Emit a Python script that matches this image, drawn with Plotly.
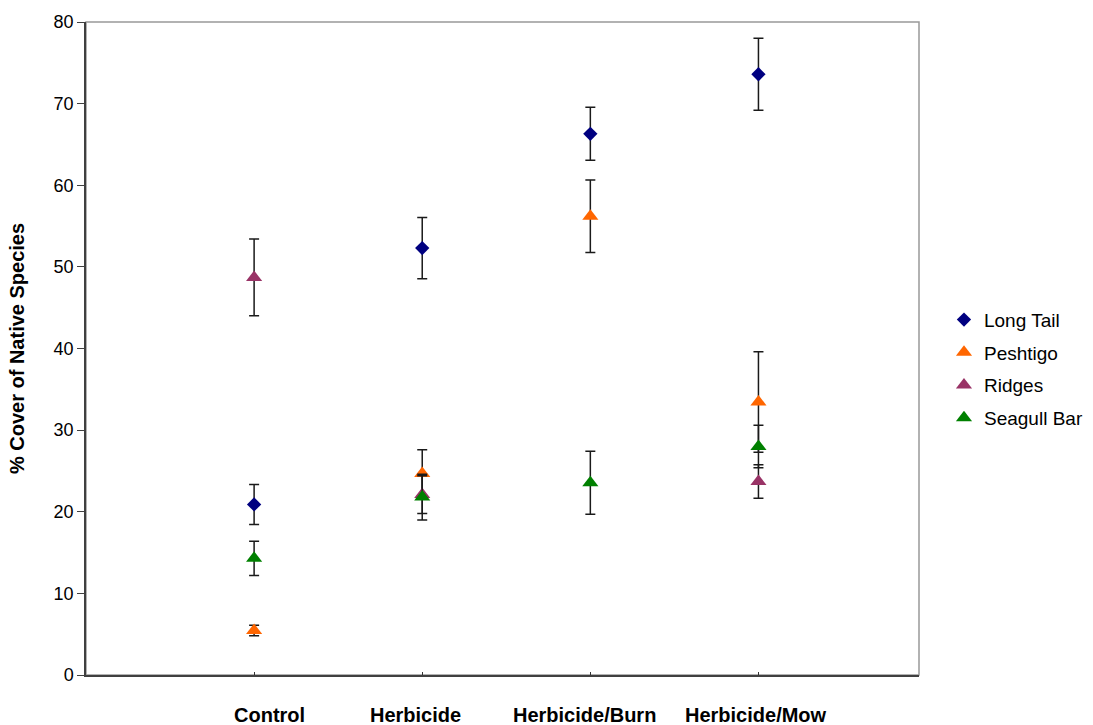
import plotly.graph_objects as go

categories = ["Control", "Herbicide", "Herbicide/Burn", "Herbicide/Mow"]
x_pos = [1, 2, 3, 4]
label_pos = [1.094, 1.962, 2.967, 3.983]

series_names = ["Long Tail", "Peshtigo", "Ridges", "Seagull Bar"]
long_tail = [20.9, 52.3, 66.3, 73.6]
long_tail_err = [2.45, 3.75, 3.25, 4.4]
peshtigo = [5.45, 24.7, 56.2, 33.45]
peshtigo_err = [0.65, 2.9, 4.45, 6.15]
ridges = [48.7, 22.1, None, 23.7]
ridges_err = [4.7, 2.3, 0, 2.05]
seagull = [14.3, 21.8, 23.55, 28.0]
seagull_err = [2.1, 2.8, 3.85, 2.6]

colors = ["#000080", "#FF6600", "#993366", "#008000"]
symbols = ["diamond", "triangle-up", "triangle-up", "triangle-up"]
sizes = [11, 14, 14, 14]

fig = go.Figure()
for i, (name, vals, errs, col, sym, sz) in enumerate(zip(
        series_names,
        [long_tail, peshtigo, ridges, seagull],
        [long_tail_err, peshtigo_err, ridges_err, seagull_err],
        colors, symbols, sizes)):
    fig.add_trace(go.Scatter(
        x=x_pos, y=vals, name=name, mode="markers", legendgroup=f"g{i}",
        marker=dict(symbol=sym, size=sz, color=col, line=dict(width=0)),
        error_y=dict(type="data", array=errs, visible=True,
                     color="#1a1a1a", thickness=1.5, width=5),
    ))

for lab, xp in zip(categories, label_pos):
    fig.add_annotation(x=xp, xref="x", y=-0.061, yref="paper",
                       text=f"<b>{lab}</b>", showarrow=False,
                       font=dict(family="Liberation Sans, Arial", size=20, color="#000"),
                       xanchor="center", yanchor="middle")

fig.add_shape(type="rect", xref="paper", yref="paper", x0=0, x1=1, y0=0, y1=1,
              line=dict(color="#999999", width=1.5), layer="below")

fig.update_layout(
    width=1093, height=725,
    margin=dict(l=86, r=174, t=22, b=50, autoexpand=False),
    paper_bgcolor="white", plot_bgcolor="white",
    font=dict(family="Liberation Sans, Arial", size=18, color="#000"),
    showlegend=True,
    legend=dict(x=1.03, y=0.469, xanchor="left", yanchor="middle",
                font=dict(size=19), itemsizing="trace",
                tracegroupgap=5, bgcolor="rgba(0,0,0,0)"),
    xaxis=dict(range=[0, 4.955], showgrid=False, zeroline=False,
               tickvals=[0, 1, 2, 3, 4], showticklabels=False,
               ticks="inside", ticklen=3, tickcolor="#333",
               showline=True, linecolor="#404040", linewidth=1.5),
    yaxis=dict(range=[0, 80], dtick=10, showgrid=False, zeroline=False,
               ticks="outside", ticklen=7, tickcolor="#404040",
               showline=True, linecolor="#404040", linewidth=1.5,
               tickfont=dict(size=18),
               title=dict(text="<b>% Cover of Native Species</b>",
                          font=dict(size=20), standoff=24)),
)

fig.write_html("out.html")
